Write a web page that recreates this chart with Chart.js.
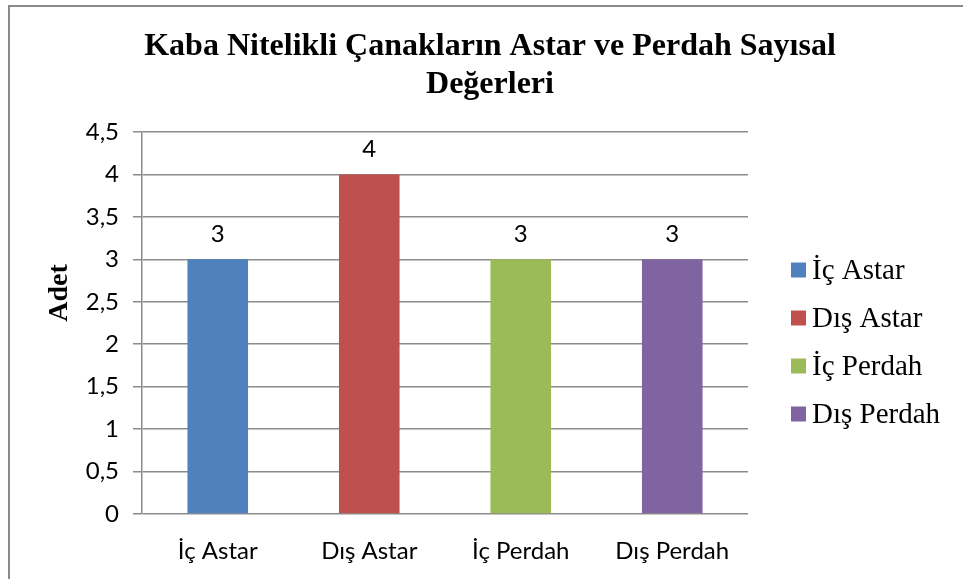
<!DOCTYPE html>
<html lang="tr">
<head>
  <meta charset="UTF-8" />
  <title>Kaba Nitelikli Çanakların Astar ve Perdah Sayısal Değerleri</title>
  <script src="https://cdn.jsdelivr.net/npm/chart.js"></script>
  <style>
    html, body { margin: 0; padding: 0; background: #fff; }
    #wrap { width: 963px; height: 579px; }
  </style>
</head>
<body>
  <div id="wrap"><canvas id="grafik" width="963" height="579"></canvas></div>

  <script>
    const kategoriler = ['İç Astar', 'Dış Astar', 'İç Perdah', 'Dış Perdah'];
    const degerler = [3, 4, 3, 3];
    const renkler = ['#4F81BD', '#C0504D', '#9BBB59', '#8064A2'];
    const baslik = ['Kaba Nitelikli Çanakların Astar ve Perdah Sayısal', 'Değerleri'];
    const eksenBasligi = 'Adet';

    // cerceve, baslik, eksen basligi, sayi etiketleri ve sag taraftaki lejant
    const ciziciPlugin = {
      id: 'cizici',
      beforeDraw(chart) {
        const ctx = chart.ctx;
        ctx.save();
        ctx.strokeStyle = '#8a8a8a';
        ctx.lineWidth = 2;
        ctx.beginPath();
        ctx.moveTo(9, 579);
        ctx.lineTo(9, 6);
        ctx.lineTo(963, 6);
        ctx.stroke();
        ctx.restore();
      },
      afterDatasetsDraw(chart) {
        const ctx = chart.ctx;
        const meta = chart.getDatasetMeta(0);
        ctx.save();
        ctx.font = '24px Lato';
        ctx.fillStyle = '#000';
        ctx.textAlign = 'center';
        ctx.textBaseline = 'alphabetic';
        meta.data.forEach((bar, i) => {
          ctx.fillText(String(degerler[i]).replace('.', ','), bar.x, bar.y - 17);
        });
        ctx.restore();
      },
      afterDraw(chart) {
        const ctx = chart.ctx;
        const area = chart.chartArea;

        // ana baslik
        ctx.save();
        ctx.font = 'bold 32px "Liberation Serif"';
        ctx.fillStyle = '#000';
        ctx.textAlign = 'center';
        ctx.textBaseline = 'middle';
        baslik.forEach((satir, i) => ctx.fillText(satir, 490, 47 + i * 38));
        ctx.restore();

        // y ekseni basligi
        ctx.save();
        ctx.translate(60, 293);
        ctx.rotate(-Math.PI / 2);
        ctx.font = 'bold 28px "Liberation Serif"';
        ctx.fillStyle = '#000';
        ctx.textAlign = 'center';
        ctx.textBaseline = 'middle';
        ctx.fillText(eksenBasligi, 0, 0);
        ctx.restore();

        // lejant
        ctx.save();
        ctx.font = '29px "Liberation Serif"';
        ctx.textBaseline = 'middle';
        ctx.textAlign = 'left';
        const x0 = area.right + 43;
        kategoriler.forEach((k, i) => {
          const y = 270 + i * 48;
          ctx.fillStyle = renkler[i];
          ctx.fillRect(x0, y - 7.5, 15, 15);
          ctx.fillStyle = '#000';
          ctx.fillText(k, x0 + 21, y + 1);
        });
        ctx.restore();
      }
    };

    new Chart(document.getElementById('grafik'), {
      type: 'bar',
      data: {
        labels: kategoriler,
        datasets: [{
          data: degerler,
          backgroundColor: renkler,
          categoryPercentage: 1,
          barPercentage: 0.4
        }]
      },
      plugins: [ciziciPlugin],
      options: {
        responsive: false,
        animation: false,
        layout: { padding: { left: 0, right: 215, top: 132, bottom: 0 } },
        plugins: {
          title: { display: false },
          legend: { display: false },
          tooltip: { enabled: false }
        },
        scales: {
          x: {
            grid: { display: false },
            border: { display: false },
            ticks: { color: '#000', font: { family: 'Lato', size: 24 }, padding: 15 },
            afterFit(s) { s.height = 65; }
          },
          y: {
            min: 0,
            max: 4.5,
            ticks: {
              stepSize: 0.5,
              color: '#000',
              font: { family: 'Lato', size: 24 },
              padding: 14,
              callback: v => String(v).replace('.', ',')
            },
            grid: { color: '#8c8c8c', lineWidth: 1.5, tickLength: 9 },
            border: { color: '#8c8c8c', width: 1.5 },
            afterFit(s) { s.width = 142; }
          }
        }
      }
    });
  </script>
</body>
</html>
